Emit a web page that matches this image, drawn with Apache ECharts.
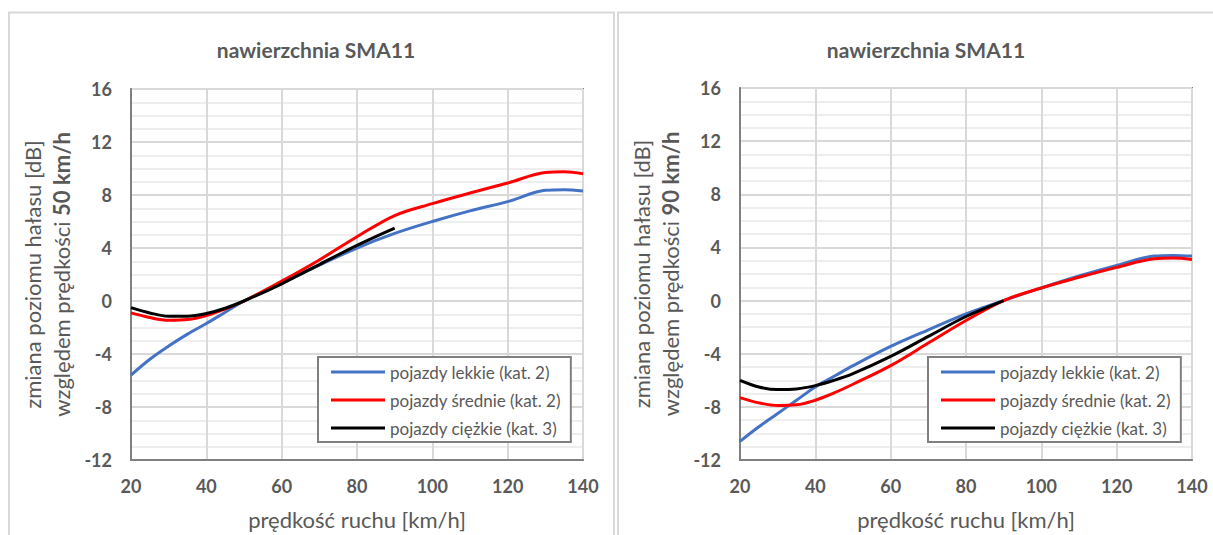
<!DOCTYPE html>
<html>
<head>
<meta charset="utf-8">
<script src="https://cdn.jsdelivr.net/npm/echarts@6/dist/echarts.min.js"></script>
<style>
html,body{margin:0;padding:0;background:#fff;}
#c{width:1213px;height:535px;}
</style>
</head>
<body>
<div id="c"></div>
<script>
// ---- data ----
const speeds = [20,25,30,35,40,45,50,60,70,80,90,100,110,120,130,135,140];
const speedsHeavy = [20,25,30,35,40,45,50,60,70,80,90];

// left panel: relative to 50 km/h
const lightRef50  = [-5.6,-4.4,-3.4,-2.5,-1.7,-0.85,0,1.35,2.7,4.0,5.1,6.0,6.8,7.5,8.35,8.4,8.3];
const mediumRef50 = [-0.9,-1.25,-1.45,-1.4,-1.1,-0.6,0,1.5,3.1,4.85,6.45,7.35,8.15,8.9,9.7,9.75,9.6];
const heavyRef50  = [-0.5,-0.9,-1.15,-1.15,-0.95,-0.55,0,1.3,2.75,4.2,5.5];

// right panel: relative to 90 km/h
const lightRef90  = [-10.6,-9.5,-8.5,-7.5,-6.5,-5.7,-4.9,-3.45,-2.2,-1.0,0,0.95,1.85,2.65,3.35,3.4,3.35];
const mediumRef90 = [-7.3,-7.7,-7.9,-7.85,-7.5,-6.95,-6.3,-4.9,-3.2,-1.5,0,0.95,1.75,2.5,3.15,3.2,3.1];
const heavyRef90  = [-6.0,-6.5,-6.7,-6.65,-6.4,-6.0,-5.5,-4.2,-2.7,-1.2,0];

const xTicks = [20,40,60,80,100,120,140];
const yTicks = [-12,-8,-4,0,4,8,12,16];

const seriesNames = ['pojazdy lekkie (kat. 2)','pojazdy średnie (kat. 2)','pojazdy ciężkie (kat. 3)'];
const titleText = 'nawierzchnia SMA11';
const xName = 'prędkość ruchu [km/h]';
const yName1 = 'zmiana poziomu hałasu [dB]';
const yName2a = 'względem prędkości ';
const yName2bLeft = '50 km/h';
const yName2bRight = '90 km/h';

// ---- chart ----
const FONT = 'Lato, "Open Sans", sans-serif';
const GRAY = '#595959';
const colors = ['#4472C4','#FF0000','#000000'];

function pairs(xs, ys){ return xs.map((x,i)=>[x, ys[i]]); }

function xAxisCfg(gi){
  return {
    type:'value', gridIndex:gi, min:xTicks[0], max:xTicks[xTicks.length-1], interval:20,
    name:xName, nameLocation:'middle', nameGap:48,
    nameTextStyle:{color:GRAY, fontFamily:FONT, fontSize:22},
    axisLine:{show:true, onZero:false, lineStyle:{color:'#808080', width:2}},
    axisTick:{show:false},
    axisLabel:{color:GRAY, fontFamily:FONT, fontSize:18, fontWeight:'bold', margin:17},
    splitLine:{show:true, lineStyle:{color:'#d9d9d9', width:2}}
  };
}
function yAxisCfg(gi, boldPart){
  return {
    type:'value', gridIndex:gi, min:yTicks[0], max:yTicks[yTicks.length-1], interval:4,
    name:'{a|'+yName1+'}\n{a|'+yName2a+'}{b|'+boldPart+'}',
    nameLocation:'middle', nameRotate:90, nameGap:55,
    nameTextStyle:{
      rich:{
        a:{color:GRAY, fontFamily:FONT, fontSize:22, lineHeight:29},
        b:{color:GRAY, fontFamily:FONT, fontSize:22, fontWeight:'bold', lineHeight:29}
      }
    },
    axisLine:{show:true, onZero:false, lineStyle:{color:'#808080', width:2}},
    axisTick:{show:false},
    axisLabel:{color:GRAY, fontFamily:FONT, fontSize:18, fontWeight:'bold', margin:19},
    splitLine:{show:true, lineStyle:{color:'#d9d9d9', width:2}},
    minorTick:{show:false, splitNumber:4},
    minorSplitLine:{show:true, lineStyle:{color:'#eeeeee', width:2}}
  };
}
function lineSeries(name, xi, data, ci){
  return {
    name:name, type:'line', xAxisIndex:xi, yAxisIndex:xi, data:data,
    smooth:0.35, showSymbol:false, symbol:'none',
    lineStyle:{color:colors[ci], width:3}, itemStyle:{color:colors[ci]},
    z:3
  };
}
function legendCfg(left){
  return {
    left:left, top:357, orient:'vertical',
    data:seriesNames,
    icon:'rect', itemWidth:54, itemHeight:3, itemGap:6,
    padding:[4,10,3,13],
    borderColor:'#808080', borderWidth:2, backgroundColor:'#fff',
    textStyle:{color:GRAY, fontFamily:FONT, fontSize:17, lineHeight:22},
    selectedMode:false, z:10
  };
}

const chart = echarts.init(document.getElementById('c'), null, {renderer:'svg'});
chart.setOption({
  animation:false,
  backgroundColor:'#fff',
  graphic:[
    {type:'rect', shape:{x:9, y:12.5, width:605, height:600}, style:{fill:'none', stroke:'#d9d9d9', lineWidth:2}, z:-1, silent:true},
    {type:'rect', shape:{x:618, y:12.5, width:700, height:600}, style:{fill:'none', stroke:'#d9d9d9', lineWidth:2}, z:-1, silent:true}
  ],
  title:[
    {text:titleText, left:311, top:34, textAlign:'center', textStyle:{color:GRAY, fontFamily:FONT, fontSize:21, fontWeight:'bold'}},
    {text:titleText, left:921, top:34, textAlign:'center', textStyle:{color:GRAY, fontFamily:FONT, fontSize:21, fontWeight:'bold'}}
  ],
  legend:[legendCfg(318), legendCfg(928)],
  grid:[
    {left:131, top:89, width:452, height:374, show:true, borderColor:'#808080', borderWidth:2, backgroundColor:'transparent'},
    {left:740, top:88, width:452, height:374, show:true, borderColor:'#808080', borderWidth:2, backgroundColor:'transparent'}
  ],
  xAxis:[xAxisCfg(0), xAxisCfg(1)],
  yAxis:[yAxisCfg(0, yName2bLeft), yAxisCfg(1, yName2bRight)],
  series:[
    lineSeries(seriesNames[0], 0, pairs(speeds, lightRef50), 0),
    lineSeries(seriesNames[1], 0, pairs(speeds, mediumRef50), 1),
    lineSeries(seriesNames[2], 0, pairs(speedsHeavy, heavyRef50), 2),
    lineSeries(seriesNames[0], 1, pairs(speeds, lightRef90), 0),
    lineSeries(seriesNames[1], 1, pairs(speeds, mediumRef90), 1),
    lineSeries(seriesNames[2], 1, pairs(speedsHeavy, heavyRef90), 2)
  ]
});
</script>
</body>
</html>
